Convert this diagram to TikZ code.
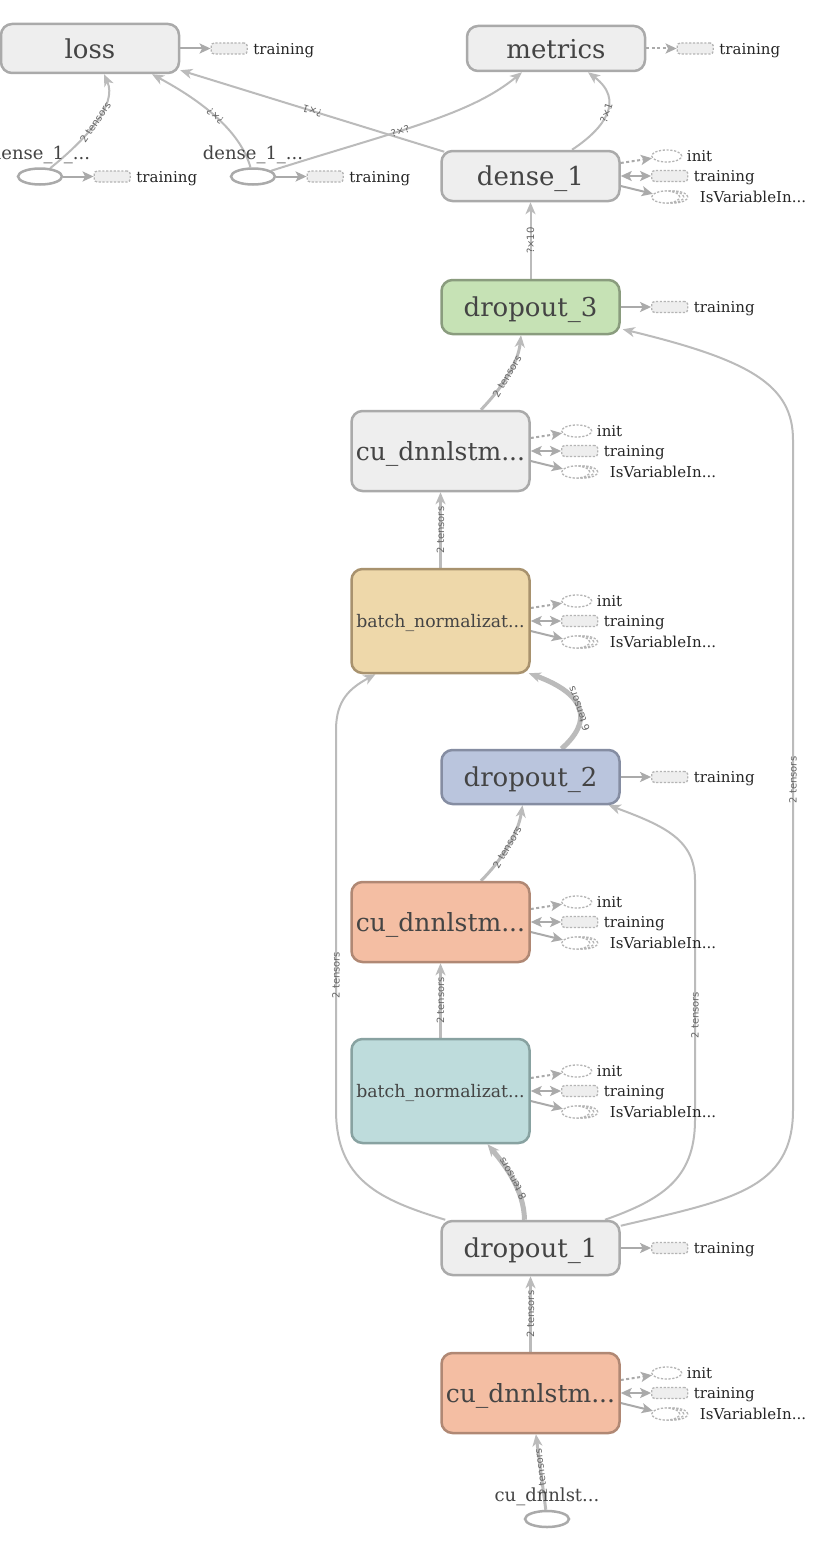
\documentclass[tikz,border=0pt]{standalone}
\usepackage{fontspec}
\setmainfont{DejaVu Serif}
\newfontfamily\lblsans{DejaVu Sans}
\usetikzlibrary{arrows.meta,shapes.geometric,shadows}
\definecolor{edgec}{HTML}{BBBBBB}
\definecolor{sidec}{HTML}{AAAAAA}
\definecolor{dashc}{HTML}{B4B4B4}
\definecolor{txtc}{HTML}{444444}
\definecolor{gfill}{HTML}{EEEEEE}
\definecolor{gdraw}{HTML}{AAAAAA}
\definecolor{grfill}{HTML}{C6E2B5}
\definecolor{grdraw}{HTML}{8A9C7E}
\definecolor{yfill}{HTML}{EED8AA}
\definecolor{ydraw}{HTML}{A8926E}
\definecolor{bfill}{HTML}{BAC5DD}
\definecolor{bdraw}{HTML}{858DA2}
\definecolor{ofill}{HTML}{F4BEA3}
\definecolor{odraw}{HTML}{B08874}
\definecolor{tfill}{HTML}{BEDCDC}
\definecolor{tdraw}{HTML}{88A2A1}
\pgfdeclarelayer{bg}
\pgfdeclarelayer{edges}
\pgfsetlayers{bg,edges,main}
\tikzset{
  op/.style={rectangle, rounded corners=11pt, line width=2.5pt, minimum width=178pt,
    inner sep=0pt, text depth=0pt, text=txtc, font=\fontsize{26}{30}\selectfont},
  opgray/.style={op, fill=gfill, draw=gdraw},
  opgreen/.style={op, fill=grfill, draw=grdraw},
  opyellow/.style={op, fill=yfill, draw=ydraw},
  opblue/.style={op, fill=bfill, draw=bdraw},
  oporange/.style={op, fill=ofill, draw=odraw},
  opteal/.style={op, fill=tfill, draw=tdraw},
  cufont/.style={font=\fontsize{25}{30}\selectfont},
  bnfont/.style={font=\fontsize{17.3}{20}\selectfont},
  inell/.style={ellipse, draw=sidec, line width=2.5pt, minimum width=44pt, minimum height=16pt, inner sep=0pt},
  inlbl/.style={text=txtc, font=\fontsize{18}{20}\selectfont, inner sep=0pt, text depth=0pt},
  dsh/.style={draw=dashc, dash pattern=on 2.2pt off 1.6pt, line width=1.3pt},
  initell/.style={ellipse, dsh, fill=white, minimum width=30pt, minimum height=12pt, inner sep=0pt},
  trainrect/.style={rectangle, rounded corners=3pt, dsh, fill=gfill, minimum width=36pt, minimum height=11pt, inner sep=0pt},
  isvar/.style={ellipse, dsh, fill=white, minimum width=28pt, minimum height=12pt, inner sep=0pt,
    copy shadow={shadow xshift=8pt, shadow yshift=0pt, shadow scale=1, draw=dashc, fill=white, dash pattern=on 2.2pt off 1.6pt, line width=1.3pt},
    copy shadow={shadow xshift=4pt, shadow yshift=0pt, shadow scale=1, draw=dashc, fill=white, dash pattern=on 2.2pt off 1.6pt, line width=1.3pt}},
  sidetxt/.style={anchor=mid west, yshift=-3pt, inner sep=0pt, text=black!85, font=\fontsize{15}{17}\selectfont},
  sidearr/.style={draw=sidec, line width=2pt, -{Stealth[length=11pt,width=10pt,inset=2.5pt]}},
  sidedot/.style={sidearr, dash pattern=on 3pt off 2.5pt},
  sidedbl/.style={draw=sidec, line width=2pt, {Stealth[length=11pt,width=10pt,inset=2.5pt]}-{Stealth[length=11pt,width=10pt,inset=2.5pt]}},
  e/.style={draw=edgec, line width=2pt, -{Stealth[length=12pt,width=10pt,inset=3.5pt]}},
  ethree/.style={e, line width=3pt},
  efive/.style={e, line width=5pt},
  lbl/.style={sloped, allow upside down, font=\lblsans\fontsize{10}{11}\selectfont, text=black!60, inner sep=1pt}
}
\newcommand\mktrain[2]{%
  \node[trainrect] (#1tr) at ([xshift=49pt]#1.east) {};
  \node[sidetxt] (#1trl) at ([xshift=73pt]#1.east) {training};
  \begin{pgfonlayer}{edges}\draw[#2] (#1) -- (#1tr);\end{pgfonlayer}%
}
\newcommand\mkvars[1]{%
  \node[initell] (#1i) at ([xshift=46pt,yshift=20pt]#1.east) {};
  \node[trainrect] (#1t) at ([xshift=49pt]#1.east) {};
  \node[isvar] (#1v) at ([xshift=45pt,yshift=-21pt]#1.east) {};
  \node[sidetxt] (#1il) at ([xshift=66pt,yshift=20pt]#1.east) {init};
  \node[sidetxt] (#1tl) at ([xshift=73pt]#1.east) {training};
  \node[sidetxt] (#1vl) at ([xshift=79pt,yshift=-21pt]#1.east) {IsVariableIn...};
  \begin{pgfonlayer}{edges}
  \draw[sidedot] ([yshift=13pt]#1.east) -- (#1i);
  \draw[sidedbl] (#1) -- (#1t);
  \draw[sidearr] ([yshift=-10pt]#1.east) -- (#1v);
  \end{pgfonlayer}%
}
\begin{document}
\begin{tikzpicture}[x=1pt,y=-1pt]
\begin{pgfonlayer}{bg}
\fill[white] (0,0) rectangle (839,1555);
\end{pgfonlayer}
\useasboundingbox (0,0) rectangle (839,1555);

% main nodes
\node[opgray, minimum height=49pt] (loss) at (90,48.5) {loss};
\node[opgray, minimum height=45pt] (metrics) at (556,48.5) {metrics};
\node[opgray, minimum height=50pt] (dense) at (530.5,176) {dense\_1};
\node[opgreen, minimum height=54pt] (d3) at (530.5,307) {dropout\_3};
\node[opgray, cufont, minimum height=80pt] (cu1) at (440.5,451) {cu\_dnnlstm...};
\node[opyellow, bnfont, minimum height=104pt] (bn2) at (440.5,621) {batch\_normalizat...};
\node[opblue, minimum height=54pt] (d2) at (530.5,777) {dropout\_2};
\node[oporange, cufont, minimum height=80pt] (cu2) at (440.5,922) {cu\_dnnlstm...};
\node[opteal, bnfont, minimum height=104pt] (bn1) at (440.5,1091) {batch\_normalizat...};
\node[opgray, minimum height=54pt] (d1) at (530.5,1248) {dropout\_1};
\node[oporange, cufont, minimum height=80pt] (cu3) at (530.5,1393) {cu\_dnnlstm...};

% input nodes
\node[inell] (in1) at (40,176.5) {};
\node[inell] (in2) at (253,176.5) {};
\node[inell] (in3) at (547,1519) {};
\node[inlbl] (in1l) at (40,153) {dense\_1\_...};
\node[inlbl] (in2l) at (253,153) {dense\_1\_...};
\node[inlbl] (in3l) at (547,1495) {cu\_dnnlst...};

% side nodes
\mktrain{loss}{sidearr}
\mktrain{metrics}{sidedot}
\mktrain{in1}{sidearr}
\mktrain{in2}{sidearr}
\mktrain{d3}{sidearr}
\mktrain{d2}{sidearr}
\mktrain{d1}{sidearr}
\mkvars{dense}
\mkvars{cu1}
\mkvars{bn2}
\mkvars{cu2}
\mkvars{bn1}
\mkvars{cu3}

\begin{pgfonlayer}{edges}
\draw[ethree] (in3) -- node[lbl]{2 tensors} (cu3);
\draw[ethree] (cu3) -- node[lbl]{2 tensors} (d1);
\draw[efive] ([xshift=-6pt]d1.north) .. controls (524,1190) and (505,1165) .. node[lbl]{8 tensors} ([xshift=47pt]bn1.south);
\draw[ethree] (bn1) -- node[lbl]{2 tensors} (cu2);
\draw[ethree] ([xshift=40.5pt]cu2.north) .. controls (500,862) and (518,835) .. node[lbl]{2 tensors} ([xshift=-8pt]d2.south);
\draw[efive] ([xshift=31pt]d2.north) .. controls (592,722) and (588,695) .. node[lbl]{6 tensors} ([xshift=-2pt,yshift=1pt]bn2.south east);
\draw[e] ([xshift=5pt]d1.north west) .. controls (380,1200) and (336,1180) .. (336,1110) -- node[lbl,pos=0.355]{2 tensors} (336,730) .. controls (336,700) and (350,688) .. ([xshift=-65pt]bn2.south);
\draw[e] ([xshift=74.5pt]d1.north) .. controls (660,1200) and (695,1180) .. (695,1120) -- node[lbl,pos=0.437]{2 tensors} (695,880) .. controls (695,840) and (665,826) .. ([xshift=-12pt]d2.south east);
\draw[e] ([yshift=-6pt]d1.north east) .. controls (730,1200) and (793,1190) .. (793,1110) -- node[lbl,pos=0.4925]{2 tensors} (793,440) .. controls (793,385) and (750,360) .. ([xshift=2pt,yshift=6pt]d3.south east);
\draw[ethree] (bn2) -- node[lbl]{2 tensors} (cu1);
\draw[ethree] ([xshift=40.5pt]cu1.north) .. controls (500,390) and (518,365) .. node[lbl]{2 tensors} ([xshift=-9.5pt]d3.south);
\draw[e] (d3) -- node[lbl]{?×10} (dense);
\draw[e] ([xshift=4pt,yshift=-2pt]dense.north west) -- node[lbl]{?×1} ([yshift=4pt]loss.south east);
\draw[e] ([xshift=41.5pt]dense.north) .. controls (605,128) and (625,100) .. node[lbl]{?×1} ([xshift=32pt]metrics.south);
\draw[e] (in1) .. controls (85,140) and (118,105) .. node[lbl]{2 tensors} ([xshift=14pt]loss.south);
\draw[e] (in2) .. controls (240,130) and (200,100) .. node[lbl]{?×?} ([xshift=62pt]loss.south);
\draw[e] (in2) .. controls (400,130) and (470,115) .. node[lbl,pos=0.4]{?×?} ([xshift=-34pt]metrics.south);
\end{pgfonlayer}
\end{tikzpicture}
\end{document}
